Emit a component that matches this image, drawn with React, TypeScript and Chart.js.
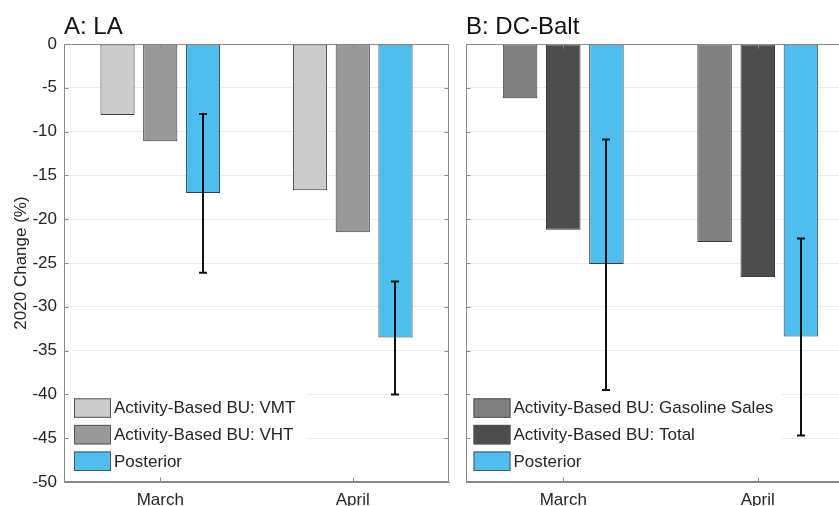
import React, { useEffect, useRef } from "react";
import { Chart, registerables } from "chart.js";
Chart.register(...registerables);

const months = ["March", "April"];

const laVMT = [-8.1, -16.7];
const laVHT = [-11.1, -21.5];
const laPosterior = [-17.0, -33.5];
const laPostLow = [-26.1, -40.0];
const laPostHigh = [-8.0, -27.1];

const dcGasoline = [-6.2, -22.6];
const dcTotal = [-21.2, -26.6];
const dcPosterior = [-25.1, -33.4];
const dcPostLow = [-39.5, -44.7];
const dcPostHigh = [-10.9, -22.2];

const yMin = -50;
const yMax = 0;
const yStep = 5;

const FONT = "'Liberation Sans', Arial, Helvetica, sans-serif";
const TEXT = "#262626";
const AXIS = "#8a8a8a";
const BLUE = "#4DBEEE";

const decorPlugin = {
  id: "decor",
  beforeDatasetsDraw(chart: any, _a: any, opts: any) {
    const { ctx } = chart;
    ctx.save();
    ctx.fillStyle = "#ffffff";
    ctx.fillRect(opts.legendBg.x0, opts.legendBg.y0, opts.legendBg.x1 - opts.legendBg.x0, opts.legendBg.y1 - opts.legendBg.y0);
    ctx.restore();
  },
  afterDatasetsDraw(chart: any, _a: any, opts: any) {
    const { ctx, chartArea, scales } = chart;
    const x = scales.x;
    const y = scales.y;
    ctx.save();
    const meta = chart.getDatasetMeta(2);
    ctx.strokeStyle = "#111111";
    ctx.lineWidth = 2;
    meta.data.forEach((bar: any, i: number) => {
      const cx = Math.round(bar.x);
      const yTop = y.getPixelForValue(opts.errHigh[i]);
      const yBot = y.getPixelForValue(opts.errLow[i]);
      ctx.beginPath();
      ctx.moveTo(cx, yTop);
      ctx.lineTo(cx, yBot);
      ctx.moveTo(cx - 4, yTop);
      ctx.lineTo(cx + 4, yTop);
      ctx.moveTo(cx - 4, yBot);
      ctx.lineTo(cx + 4, yBot);
      ctx.stroke();
    });
    ctx.strokeStyle = AXIS;
    ctx.lineWidth = 1;
    const L = Math.round(chartArea.left) + 0.5;
    const R = Math.round(chartArea.right) - 0.5;
    const T = Math.round(chartArea.top) + 0.5;
    const B = Math.round(chartArea.bottom) - 0.5;
    ctx.strokeRect(L, T, R - L, B - T);
    ctx.beginPath();
    for (let v = yMin; v <= yMax; v += yStep) {
      const py = Math.round(y.getPixelForValue(v)) + 0.5;
      ctx.moveTo(L, py);
      ctx.lineTo(L + 4, py);
      ctx.moveTo(R, py);
      ctx.lineTo(R - 4, py);
    }
    for (let i = 0; i < months.length; i++) {
      const px = Math.round(x.getPixelForValue(i)) + 0.5;
      ctx.moveTo(px, B);
      ctx.lineTo(px, B - 4);
      ctx.moveTo(px, T);
      ctx.lineTo(px, T + 4);
    }
    ctx.stroke();
    const lg = opts.legend;
    ctx.font = `17px ${FONT}`;
    ctx.textBaseline = "middle";
    ctx.textAlign = "left";
    chart.data.datasets.forEach((ds: any, i: number) => {
      const top = lg.y + i * lg.gap;
      ctx.fillStyle = ds.backgroundColor;
      ctx.fillRect(lg.x, top, 37, 19.5);
      ctx.strokeStyle = "#555555";
      ctx.lineWidth = 1;
      ctx.strokeRect(lg.x + 0.5, top + 0.5, 36, 18.5);
      ctx.fillStyle = TEXT;
      ctx.fillText(ds.label, lg.x + 40, top + 10.5);
    });
    ctx.font = `24px ${FONT}`;
    ctx.fillStyle = "#111111";
    ctx.textBaseline = "alphabetic";
    ctx.fillText(opts.title, chartArea.left, 34);
    ctx.restore();
  },
};

function makeConfig(
  labels: string[],
  series: { label: string; data: number[]; color: string }[],
  errLow: number[],
  errHigh: number[],
  title: string,
  showYLabels: boolean,
  yWidth: number,
  padRight: number,
  legend: { x: number; y: number; gap: number },
  legendBg: { x0: number; y0: number; x1: number; y1: number }
): any {
  return {
    type: "bar",
    data: {
      labels,
      datasets: series.map((s) => ({
        label: s.label,
        data: s.data,
        backgroundColor: s.color,
        borderColor: "#3c3c3c",
        borderWidth: 1,
        borderSkipped: false,
        categoryPercentage: 0.666,
        barPercentage: 0.8,
      })),
    },
    options: {
      animation: false,
      responsive: false,
      maintainAspectRatio: false,
      events: [],
      layout: { padding: { top: 44, right: padRight, left: 0, bottom: 0 } },
      plugins: {
        legend: { display: false },
        tooltip: { enabled: false },
        title: { display: false },
        decor: { errLow, errHigh, title, legend, legendBg },
      },
      scales: {
        x: {
          offset: true,
          grid: { display: false, drawTicks: false },
          border: { display: true, color: AXIS },
          ticks: { color: TEXT, font: { family: FONT, size: 17 }, padding: 8, maxRotation: 0 },
          afterFit: (s: any) => {
            s.height = 24;
          },
        },
        y: {
          min: yMin,
          max: yMax,
          grid: { color: "#ebebeb", lineWidth: 1, drawTicks: false },
          border: { display: true, color: AXIS },
          ticks: {
            display: showYLabels,
            stepSize: yStep,
            color: TEXT,
            font: { family: FONT, size: 17 },
            padding: 7,
          },
          title: {
            display: showYLabels,
            text: "2020 Change (%)",
            color: TEXT,
            font: { family: FONT, size: 17 },
            padding: { top: 11, bottom: 0 },
          },
          afterFit: (s: any) => {
            s.width = yWidth;
          },
        },
      },
    },
    plugins: [decorPlugin],
  };
}

export default function App() {
  const leftRef = useRef<HTMLCanvasElement>(null);
  const rightRef = useRef<HTMLCanvasElement>(null);

  useEffect(() => {
    const left = new Chart(
      leftRef.current as HTMLCanvasElement,
      makeConfig(
        months,
        [
          { label: "Activity-Based BU: VMT", data: laVMT, color: "#CCCCCC" },
          { label: "Activity-Based BU: VHT", data: laVHT, color: "#999999" },
          { label: "Posterior", data: laPosterior, color: BLUE },
        ],
        laPostLow,
        laPostHigh,
        "A: LA",
        true,
        64,
        11,
        { x: 74, y: 398.3, gap: 26.6 },
        { x0: 66, y0: 390, x1: 306, y1: 479 }
      )
    );
    const right = new Chart(
      rightRef.current as HTMLCanvasElement,
      makeConfig(
        months,
        [
          { label: "Activity-Based BU: Gasoline Sales", data: dcGasoline, color: "#808080" },
          { label: "Activity-Based BU: Total", data: dcTotal, color: "#4D4D4D" },
          { label: "Posterior", data: dcPosterior, color: BLUE },
        ],
        dcPostLow,
        dcPostHigh,
        "B: DC-Balt",
        false,
        6,
        25,
        { x: 13.5, y: 398.3, gap: 26.6 },
        { x0: 8, y0: 390, x1: 322, y1: 479 }
      )
    );
    return () => {
      left.destroy();
      right.destroy();
    };
  }, []);

  return (
    <div
      style={{
        position: "fixed",
        left: 0,
        top: 0,
        width: 839,
        height: 506,
        overflow: "hidden",
        background: "#ffffff",
      }}
    >
      <canvas
        ref={leftRef}
        width={460}
        height={506}
        style={{ position: "absolute", left: 0, top: 0, width: 460, height: 506 }}
      />
      <canvas
        ref={rightRef}
        width={420}
        height={506}
        style={{ position: "absolute", left: 460, top: 0, width: 420, height: 506 }}
      />
    </div>
  );
}
